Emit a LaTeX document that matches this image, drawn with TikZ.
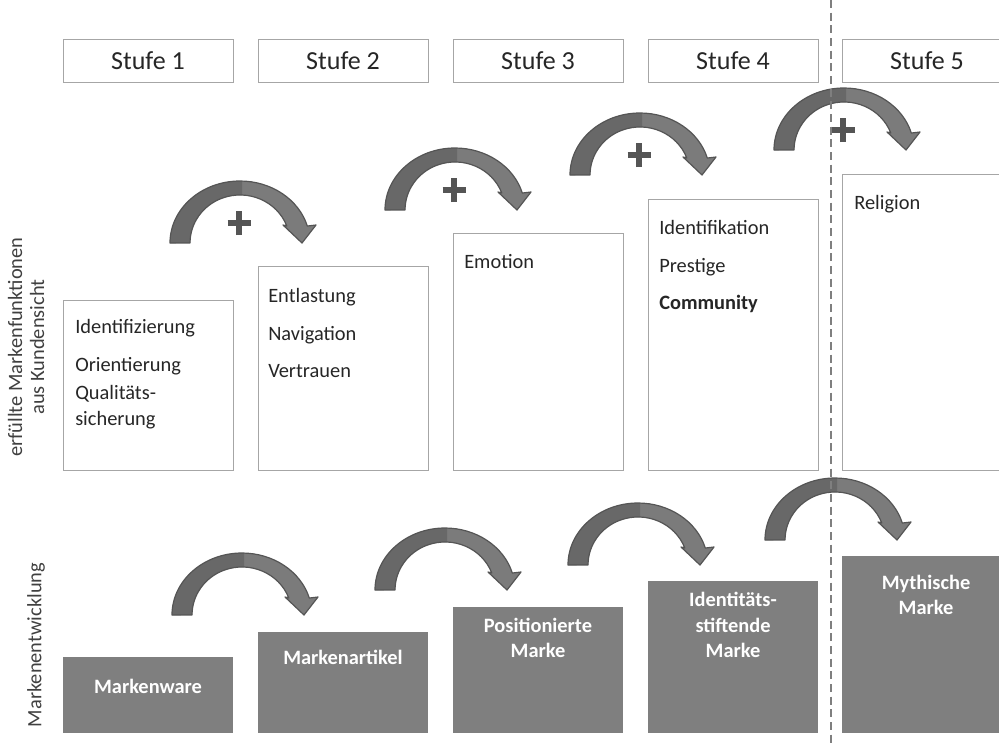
\documentclass[tikz,border=0pt]{standalone}
\usepackage{fontspec}
\setmainfont{Carlito}
\definecolor{boxline}{HTML}{A6A6A6}
\definecolor{darkbox}{HTML}{7F7F7F}
\definecolor{arrowdark}{HTML}{686868}
\definecolor{arrowlight}{HTML}{7B7B7B}
\definecolor{arrowedge}{HTML}{555555}
\definecolor{txt}{HTML}{262626}
\definecolor{labeltxt}{HTML}{404040}
\definecolor{dashc}{HTML}{7F7F7F}
\def\arcpath{(0,0) arc[start angle=180,end angle=15.9,x radius=70,y radius=62] -- (146,18) -- (132,0) -- (113,18) -- (116.8,17) arc[start angle=20.7,end angle=180,x radius=50,y radius=48] -- cycle}
\tikzset{
  hdr/.style={draw=boxline, line width=0.75pt, fill=white, minimum width=127.5pt, minimum height=32.25pt, inner sep=0pt, font=\fontsize{19.5}{23}\selectfont, text=txt},
  fbox/.style={draw=boxline, line width=0.75pt, fill=white, minimum width=127.5pt, inner sep=0pt, anchor=south west},
  mbox/.style={fill=darkbox, minimum width=127.5pt, inner sep=0pt, anchor=south west},
  ftxt/.style={anchor=base west, inner sep=0pt, font=\fontsize{15.3}{18}\selectfont, text=txt},
  mtxt/.style={inner sep=0pt, align=center, font=\fontsize{15.3}{19}\selectfont\bfseries, text=white},
  lbl/.style={inner sep=0pt, align=center, font=\fontsize{15.3}{16.5}\selectfont, text=labeltxt},
  dashline/.style={draw=dashc, line width=0.9pt, dash pattern=on 6pt off 3.5pt},
  arcarrow/.pic={
    \fill[arrowlight] \arcpath;
    \begin{scope}
      \clip (-5,-5) rectangle (72,70);
      \fill[arrowdark] \arcpath;
    \end{scope}
    \draw[arrowedge, line width=0.9pt, line join=round] \arcpath;
  },
  plusmark/.pic={
    \draw[arrowedge, line width=3.9pt] (57.5,20) -- (80.5,20) (69,8) -- (69,32);
  },
}
\begin{document}
\begin{tikzpicture}[x=0.75pt,y=0.75pt]
\useasboundingbox (0,0) rectangle (999,-744);
\clip (0,0) rectangle (999,-744);
\fill[white] (0,0) rectangle (999,-744);

% header boxes
\node[hdr] (h1) at (148,-60.5) {Stufe 1};
\node[hdr] (h2) at (343,-60.5) {Stufe 2};
\node[hdr] (h3) at (538,-60.5) {Stufe 3};
\node[hdr] (h4) at (733,-60.5) {Stufe 4};
\node[hdr] (h5) at (927,-60.5) {Stufe 5};

% function boxes
\node[fbox, minimum height=127.5pt] (f1) at (63,-471) {};
\node[fbox, minimum height=153pt] (f2) at (258,-471) {};
\node[fbox, minimum height=177.75pt] (f3) at (453,-471) {};
\node[fbox, minimum height=203.25pt] (f4) at (648,-471) {};
\node[fbox, minimum height=222pt] (f5) at (842,-471) {};

\node[ftxt] (f1a) at (75,-333) {Identifizierung};
\node[ftxt] (f1b) at (75,-371) {Orientierung};
\node[ftxt] (f1c) at (75,-399) {Qualitäts-};
\node[ftxt] (f1d) at (75,-425) {sicherung};
\node[ftxt] (f2a) at (268,-302) {Entlastung};
\node[ftxt] (f2b) at (268,-340) {Navigation};
\node[ftxt] (f2c) at (268,-377) {Vertrauen};
\node[ftxt] (f3a) at (464,-268) {Emotion};
\node[ftxt] (f4a) at (659,-234) {Identifikation};
\node[ftxt] (f4b) at (659,-272) {Prestige};
\node[ftxt, font=\fontsize{15.3}{18}\selectfont\bfseries] (f4c) at (659,-309) {Community};
\node[ftxt] (f5a) at (854,-209) {Religion};

% brand boxes
\node[mbox, minimum height=57pt] (m1) at (63,-733) {};
\node[mbox, minimum height=75.75pt] (m2) at (258,-733) {};
\node[mbox, minimum height=94.5pt] (m3) at (453,-733) {};
\node[mbox, minimum height=114pt] (m4) at (648,-733) {};
\node[mbox, minimum height=132.75pt] (m5) at (842,-733) {};

\node[mtxt] (t1) at (148,-686) {Markenware};
\node[mtxt] (t2) at (343,-657) {Markenartikel};
\node[mtxt] (t3) at (538,-638) {Positionierte\\Marke};
\node[mtxt] (t4) at (733,-625) {Identitäts-\\stiftende\\Marke};
\node[mtxt] (t5) at (926,-595) {Mythische\\Marke};

% side labels
\node[lbl, rotate=90] (lab1) at (26,-347) {erfüllte Markenfunktionen\\aus Kundensicht};
\node[lbl, rotate=90] (lab2) at (36,-645) {Markenentwicklung};

% upper arrows
\pic at (170,-243) {arcarrow};
\pic at (170,-243) {plusmark};
\pic at (385,-210) {arcarrow};
\pic at (385,-210) {plusmark};
\pic at (570,-175) {arcarrow};
\pic at (570,-175) {plusmark};
\pic at (774,-150) {arcarrow};
\pic at (774,-150) {plusmark};

% lower arrows
\pic at (172,-615) {arcarrow};
\pic at (375,-590) {arcarrow};
\pic at (568,-565) {arcarrow};
\pic at (765,-540) {arcarrow};

% dashed separator
\coordinate (dtop) at (831,0);
\coordinate (dbot) at (831,-744);
\draw[dashline] (dtop) -- (dbot);
\end{tikzpicture}
\end{document}
